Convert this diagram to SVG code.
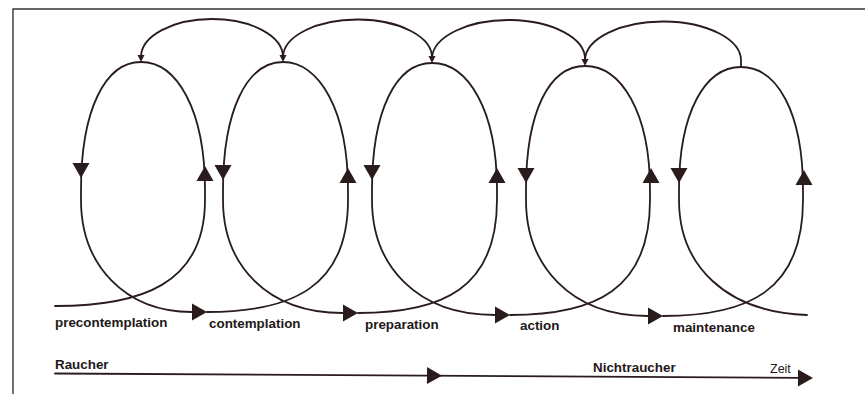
<svg xmlns="http://www.w3.org/2000/svg" xmlns:xlink="http://www.w3.org/1999/xlink" width="865" height="394" viewBox="0 0 865 394">
<style>
.ln{fill:none;stroke:#2a1c1c;stroke-width:1.8;stroke-linecap:round}
.ar{fill:#2a1c1c}
.fr{fill:none;stroke:#3a3434;stroke-width:1.4}
.lb{font-family:"Liberation Sans",Arial,sans-serif;font-weight:700;font-size:13.4px;fill:#231818}
.zt{font-family:"Liberation Sans",Arial,sans-serif;font-size:12.5px;fill:#231818}
</style>
<defs>
<path id="tri" d="M0,0 L-15,-8.5 L-15,8.5 Z"/>
<path id="stri" d="M0,0 L-7,-3.5 L-7,3.5 Z"/>
</defs>
<rect width="865" height="394" fill="#ffffff"/>
<path class="fr" d="M13,394 L13,9 L865,9"/>

<g id="connectors">
  <!-- top arches -->
  <path class="ln" d="M283,57 A71,38 0 0 0 141,57"/>
  <path class="ln" d="M432,58 A74.5,38 0 0 0 283,57"/>
  <path class="ln" d="M585,60 A76.5,39 0 0 0 432,58"/>
  <path class="ln" d="M741,67 L741,61 A78,39 0 0 0 585,60"/>
  <use xlink:href="#stri" class="ar" transform="translate(141,62) rotate(90)"/>
  <use xlink:href="#stri" class="ar" transform="translate(283,62) rotate(90)"/>
  <use xlink:href="#stri" class="ar" transform="translate(432,63) rotate(90)"/>
  <use xlink:href="#stri" class="ar" transform="translate(585,66) rotate(90)"/>
</g>

<g id="loop1">
  <path class="ln" d="M55,306 C140,306 205,285 205,200 L205,190 C205,110 177,62 141,62 C105,62 81,110 81,190 L81,200 C81,265 125,312 192,312"/>
  <use xlink:href="#tri" class="ar" transform="translate(81,178) rotate(90)"/>
  <use xlink:href="#tri" class="ar" transform="translate(205,166) rotate(-90)"/>
  <use xlink:href="#tri" class="ar" transform="translate(207,312)"/>
</g>
<g id="loop2">
  <path class="ln" d="M207,312 C292,312 348,287 348,200 L348,190 C348,110 319,62 283,62 C247,62 223,110 223,190 L223,200 C223,265 267,313 343,313"/>
  <use xlink:href="#tri" class="ar" transform="translate(223,180) rotate(90)"/>
  <use xlink:href="#tri" class="ar" transform="translate(348,168) rotate(-90)"/>
  <use xlink:href="#tri" class="ar" transform="translate(358,313)"/>
</g>
<g id="loop3">
  <path class="ln" d="M358,313 C443,313 497,288 497,200 L497,190 C497,110 468,63 432,63 C396,63 372,110 372,190 L372,200 C372,265 416,315 495,315"/>
  <use xlink:href="#tri" class="ar" transform="translate(372,180) rotate(90)"/>
  <use xlink:href="#tri" class="ar" transform="translate(497,168) rotate(-90)"/>
  <use xlink:href="#tri" class="ar" transform="translate(510,315)"/>
</g>
<g id="loop4">
  <path class="ln" d="M510,315 C595,315 650,290 650,200 L650,190 C650,112 621,66 585,66 C549,66 526,112 526,190 L526,200 C526,265 570,316 648,316"/>
  <use xlink:href="#tri" class="ar" transform="translate(526,183) rotate(90)"/>
  <use xlink:href="#tri" class="ar" transform="translate(651,168) rotate(-90)"/>
  <use xlink:href="#tri" class="ar" transform="translate(663,316)"/>
</g>
<g id="loop5">
  <path class="ln" d="M663,316 C748,316 803,291 803,200 L803,190 C803,112 777,67 741,67 C705,67 679,112 679,190 L679,200 C679,265 725,312 807,315"/>
  <use xlink:href="#tri" class="ar" transform="translate(679,183) rotate(90)"/>
  <use xlink:href="#tri" class="ar" transform="translate(804,170) rotate(-90)"/>
</g>

<g id="labels">
  <text class="lb" x="55" y="327">precontemplation</text>
  <text class="lb" x="209" y="328">contemplation</text>
  <text class="lb" x="365" y="329">preparation</text>
  <text class="lb" x="520" y="330">action</text>
  <text class="lb" x="673" y="332">maintenance</text>
</g>

<g id="timeline">
  <path class="ln" d="M55,373.5 L800,377.8"/>
  <use xlink:href="#tri" class="ar" transform="translate(442,375.7) rotate(0.33)"/>
  <use xlink:href="#tri" class="ar" transform="translate(813,378) rotate(0.33)"/>
  <text class="lb" x="55" y="369">Raucher</text>
  <text class="lb" x="593" y="372">Nichtraucher</text>
  <text class="zt" x="770" y="373">Zeit</text>
</g>
</svg>
